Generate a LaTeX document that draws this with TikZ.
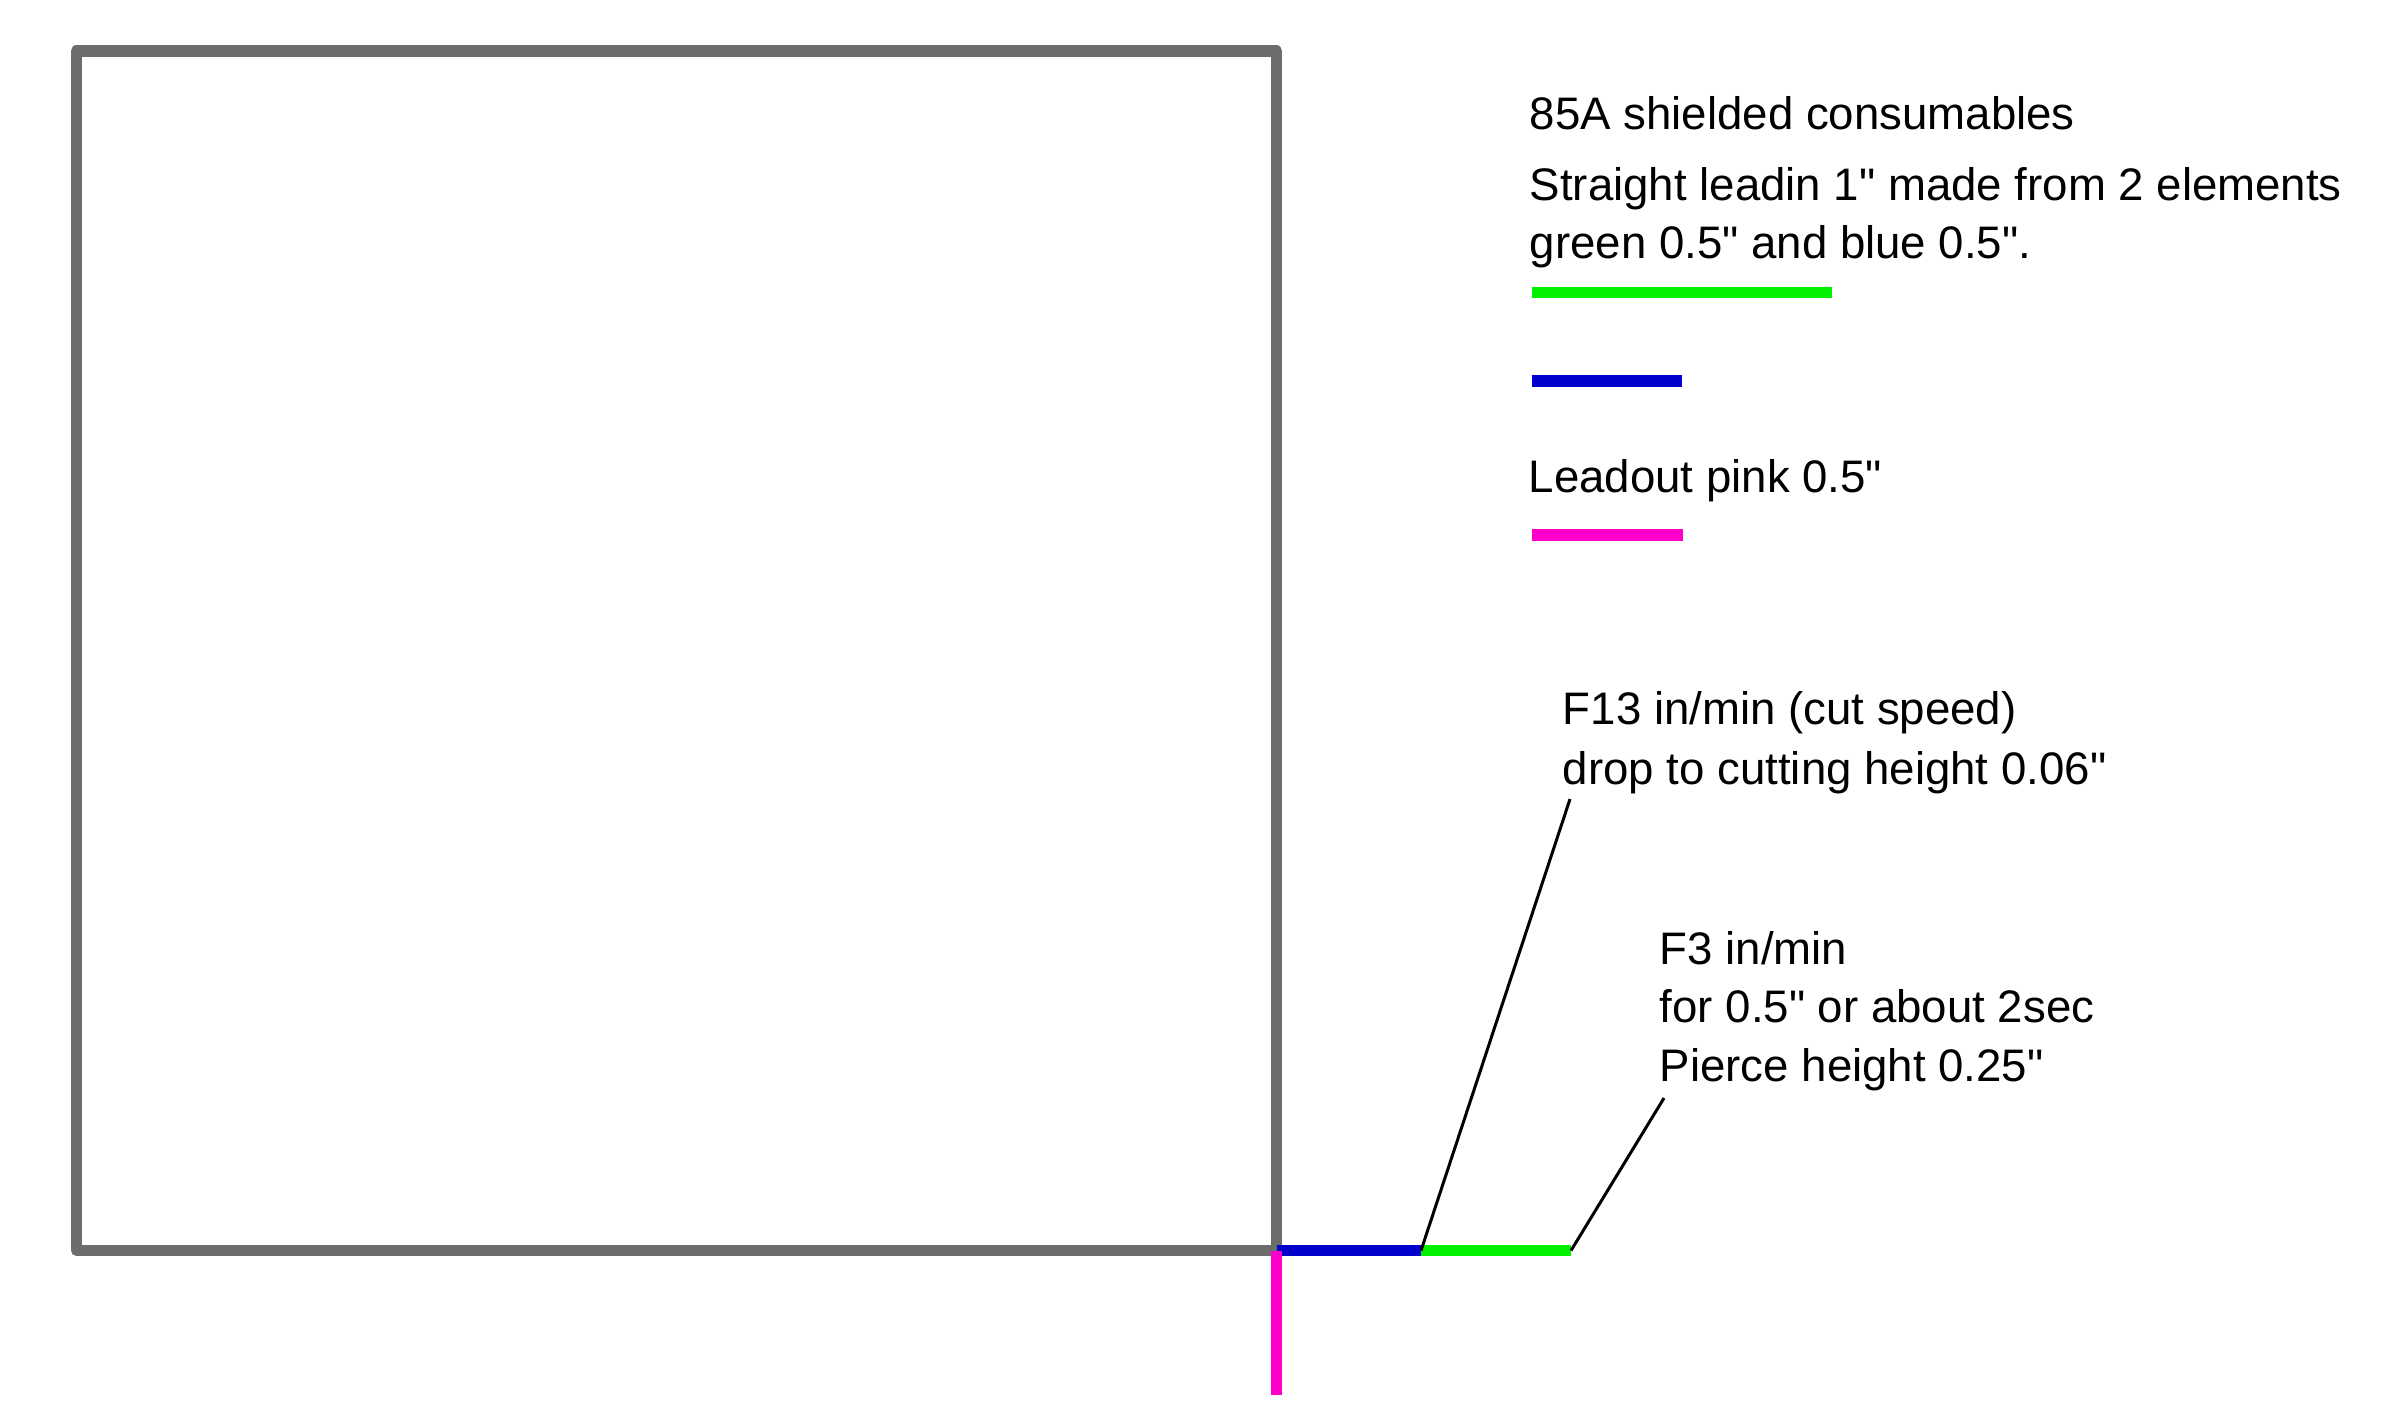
\documentclass[tikz,border=0pt]{standalone}
\usepackage{fontspec}
\setmainfont{Liberation Sans}
\usetikzlibrary{positioning}
\definecolor{framegray}{HTML}{6D6D6D}
\definecolor{leadgreen}{HTML}{00F000}
\definecolor{leadblue}{HTML}{0000CC}
\definecolor{leadpink}{HTML}{FF00CC}
\newcommand{\inch}{\textquotedbl}
\tikzset{
	note/.style={anchor=base west, inner sep=0pt, font=\fontsize{11.4}{13}\selectfont},
	contour/.style={draw=framegray, line width=2.8pt, line join=round},
	lead/.style={line width=2.8pt},
	pointer/.style={line width=0.75pt}
}

\begin{document}
\begin{tikzpicture}[x=0.25pt,y=-0.25pt]
	\useasboundingbox (0,0) rectangle (2383,1426);
	% part outline
	\coordinate (topleft) at (76.5,51);
	\coordinate (corner) at (1276.5,1250.5);
	\draw[contour] (topleft) rectangle (corner);
	% leadin and leadout on the part
	\coordinate (junction) at (1421,1250.5);
	\coordinate (greenend) at (1571,1250.5);
	\coordinate (pinkend) at (1276.5,1395);
	\draw[lead, leadblue] (corner) -- (junction);
	\draw[lead, leadgreen] (junction) -- (greenend);
	\draw[lead, leadpink] (corner) -- (pinkend);
	% legend
	\node[note] (title) at (1529,129) {85A shielded consumables};
	\node[note] (leadin1) at (1529,200) {Straight leadin 1\inch{} made from 2 elements};
	\node[note] (leadin2) at (1529,258.5) {green 0.5\inch{} and blue 0.5\inch.};
	\coordinate (gstart) at (1531.5,292.5);
	\coordinate (gstop) at (1832,292.5);
	\draw[lead, leadgreen] (gstart) -- (gstop);
	\coordinate (bstart) at (1531.5,381);
	\coordinate (bstop) at (1682,381);
	\draw[lead, leadblue] (bstart) -- (bstop);
	\node[note] (leadout) at (1528,492.5) {Leadout pink 0.5\inch};
	\coordinate (pstart) at (1532,535);
	\coordinate (pstop) at (1682.5,535);
	\draw[lead, leadpink] (pstart) -- (pstop);
	% callouts
	\node[note] (cut1) at (1562,724.5) {F13 in/min (cut speed)};
	\node[note] (cut2) at (1562,784) {drop to cutting height 0.06\inch};
	\node[note] (pierce1) at (1659,964) {F3 in/min};
	\node[note] (pierce2) at (1659,1022.5) {for 0.5\inch{} or about 2sec};
	\node[note] (pierce3) at (1659,1081) {Pierce height 0.25\inch};
	\coordinate (cutpin) at (1570,799);
	\coordinate (piercepin) at (1664,1098);
	\draw[pointer] (cutpin) -- (junction);
	\draw[pointer] (piercepin) -- (greenend);
\end{tikzpicture}
\end{document}
